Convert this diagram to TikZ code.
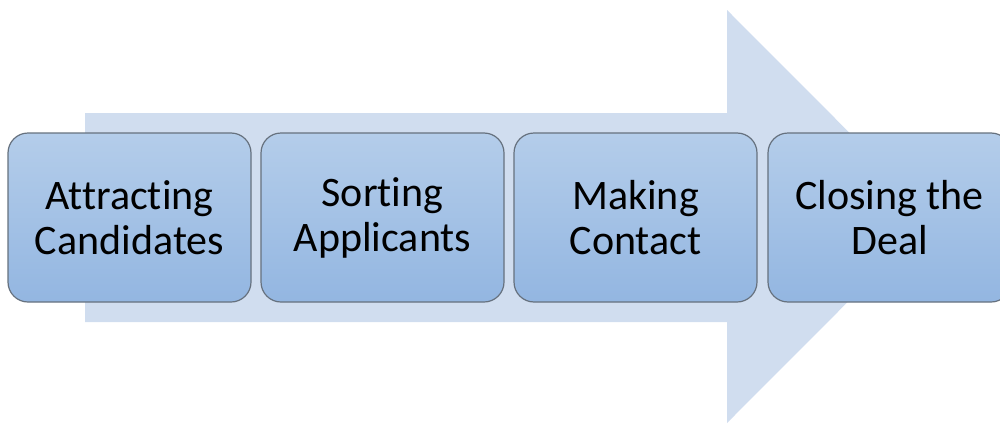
\documentclass[tikz,border=0pt]{standalone}
\usepackage{fontspec}
\setmainfont{Carlito}[RawFeature={-liga;-clig;-dlig;-calt}]
\definecolor{arrowfill}{HTML}{D0DDEF}
\definecolor{boxtop}{HTML}{B4CDEA}
\definecolor{boxbot}{HTML}{93B6E1}
\definecolor{boxline}{HTML}{66717E}
\begin{document}
\begin{tikzpicture}[x=0.5pt,y=-0.5pt,
  stage/.style={rectangle, rounded corners=10pt, draw=boxline, line width=0.6pt,
    top color=boxtop, bottom color=boxbot, minimum width=121.5pt, minimum height=84.5pt,
    align=center, inner sep=0pt, font=\fontsize{21}{22.5}\selectfont}]
\useasboundingbox (0,0) rectangle (1000,423);
\clip (0,0) rectangle (1000,423);
\fill[arrowfill] (85,113) -- (727,113) -- (727,10) -- (933,216.5) -- (727,423) -- (727,322) -- (85,322) -- cycle;
\node[stage] (s1) at (129.5,217.5) {Attracting\\Candidates};
\node[stage] (s2) at (382.5,217.5) {Sorting\\Applicants};
\node[stage] (s3) at (635.5,217.5) {Making\\Contact};
\node[stage] (s4) at (889.5,217.5) {Closing the\\Deal};
\end{tikzpicture}
\end{document}
